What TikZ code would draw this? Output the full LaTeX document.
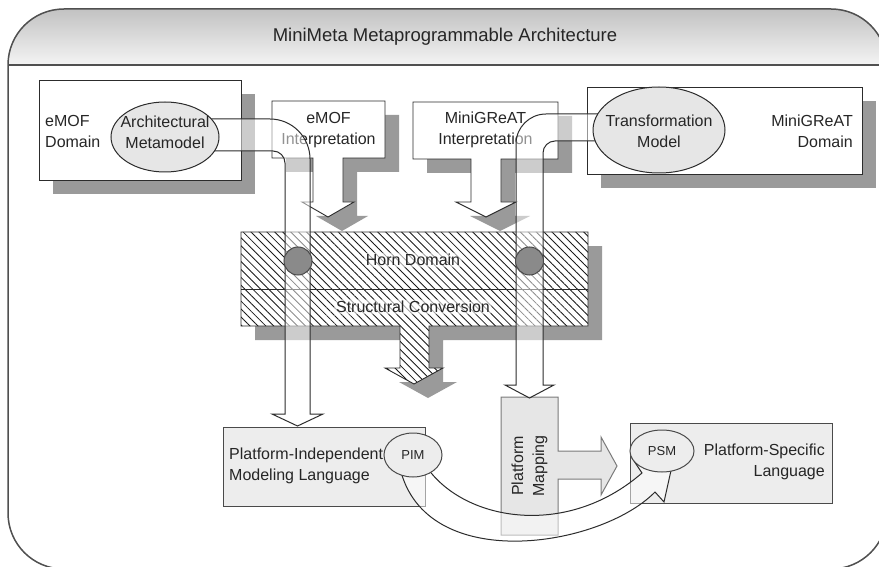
\documentclass[tikz,border=0pt]{standalone}
\usepackage{fontspec}
\setmainfont{Liberation Sans}
\usetikzlibrary{patterns.meta,shapes.geometric}

\definecolor{framec}{HTML}{505050}
\definecolor{hdtop}{HTML}{C2C2C2}
\definecolor{hdbot}{HTML}{F4F4F4}
\definecolor{shadowc}{HTML}{9A9A9A}
\definecolor{inkc}{HTML}{2C2C2C}
\definecolor{txtc}{HTML}{262626}
\definecolor{paleg}{HTML}{EDEDED}
\definecolor{ellg}{HTML}{E6E6E6}
\definecolor{dotc}{HTML}{8A8A8A}
\definecolor{hatchc}{HTML}{1A1A1A}
\definecolor{pmline}{HTML}{7A7A7A}
\definecolor{lowline}{HTML}{4A4A4A}

% T-shaped boxes with a down arrow, and the hatched Horn/Conversion block
\newcommand\emofTshape[1]{\path[#1] (272,101) -- (385,101) -- (385,158) -- (343,158) -- (343,202) -- (354,202) -- (328,217) -- (302,202) -- (313,202) -- (313,158) -- (272,158) -- cycle;}
\newcommand\greatTshape[1]{\path[#1] (413,102) -- (558,102) -- (558,159) -- (501,159) -- (501,202) -- (516,202) -- (486,217) -- (456,202) -- (471,202) -- (471,159) -- (413,159) -- cycle;}
\newcommand\hornTshape[1]{\path[#1] (241,232) -- (588,232) -- (588,326) -- (429,326) -- (429,368) -- (443,368) -- (414,384) -- (385,368) -- (400,368) -- (400,326) -- (241,326) -- cycle;}

\tikzset{
  lbl/.style={font=\fontsize{16}{21}\selectfont, text=txtc, align=center, inner sep=0pt},
  small/.style={font=\fontsize{13}{16}\selectfont, text=txtc, inner sep=0pt},
  onhatch/.style={lbl, fill=white, fill opacity=0.6, text opacity=1, inner sep=1.5pt, rounded corners=3pt},
  boxline/.style={draw=inkc, line width=0.9pt},
  pipe/.style={draw=inkc, line width=1pt, fill=white, fill opacity=0.5},
  hatch/.style={pattern={Lines[angle=-45,distance=5.6pt,line width=0.85pt]}, pattern color=hatchc},
}

\begin{document}
\begin{tikzpicture}[x=1pt,y=-1pt]
\useasboundingbox (0,0) rectangle (879,567);

% outer frame with its shaded header band
\fill[white] (8,65) -- (8,513) .. controls (8,544) and (33,569) .. (64,569) -- (831,569)
  .. controls (862,569) and (887,544) .. (887,513) -- (887,65)
  .. controls (887,34) and (862,9) .. (831,9) -- (64,9) .. controls (33,9) and (8,34) .. (8,65) -- cycle;
\shade[top color=hdtop, bottom color=hdbot] (8,65) .. controls (8,34) and (33,9) .. (64,9) -- (831,9)
  .. controls (862,9) and (887,34) .. (887,65) -- cycle;
\draw[framec, line width=1.5pt] (8,65) -- (8,513) .. controls (8,544) and (33,569) .. (64,569) -- (831,569)
  .. controls (862,569) and (887,544) .. (887,513) -- (887,65)
  .. controls (887,34) and (862,9) .. (831,9) -- (64,9) .. controls (33,9) and (8,34) .. (8,65) -- cycle;
\draw[framec, line width=1.3pt] (8,65) -- (887,65);
\node[lbl, font=\fontsize{18.5}{22}\selectfont] (title) at (445,37) {MiniMeta Metaprogrammable Architecture};

% drop shadows
\fill[shadowc] (53,94) rectangle (255,194);
\emofTshape{fill=shadowc, shift={(14,14)}}
\greatTshape{fill=shadowc, shift={(14,14)}}
\fill[shadowc] (601,101) rectangle (876,188);
\hornTshape{fill=shadowc, shift={(14,14)}}

% upper domain and interpretation boxes
\draw[boxline, fill=white] (39,80) rectangle (241,180);
\node[lbl, align=left, anchor=west] (emofdom) at (45,131) {eMOF\\Domain};
\emofTshape{boxline, fill=white}
\node[lbl] (emofint) at (328.5,130) {eMOF\\Interpretation};
\greatTshape{boxline, fill=white}
\node[lbl] (greatint) at (485.5,130) {MiniGReAT\\Interpretation};
\draw[boxline, fill=white] (587,87) rectangle (862,174);
\node[lbl, align=right, anchor=east] (greatdom) at (853,131) {MiniGReAT\\Domain};

% hatched Horn Domain / Structural Conversion block
\hornTshape{fill=white}
\hornTshape{hatch}
\hornTshape{boxline}
\draw[inkc, line width=0.8pt] (241,289) -- (588,289);
\node[onhatch] (horn) at (413,260) {Horn Domain};
\node[onhatch] (structconv) at (413,307) {Structural Conversion};

% lower language boxes and the platform mapping arrow
\draw[draw=lowline, line width=1pt, fill=paleg] (223,427) rectangle (425,506);
\node[lbl, align=left, anchor=west] (pimlang) at (229,466) {Platform-Independent\\Modeling Language};
\draw[draw=lowline, line width=1pt, fill=paleg] (630,423) rectangle (832,503);
\node[lbl, align=right, anchor=east] (psmlang) at (825,462) {Platform-Specific\\Language};
\draw[draw=pmline, line width=1pt, fill=ellg] (501,397) -- (558,397) -- (558,451) -- (601,451) -- (601,437)
  -- (617,466) -- (601,495) -- (601,479) -- (558,479) -- (558,535) -- (501,535) -- cycle;
\node[lbl, rotate=90] (pmap) at (529.5,466) {Platform\\Mapping};

% curved band from PIM to PSM
\path[pipe] (426,466) .. controls (462,520) and (565,540) .. (642,473) -- (632,458) -- (672,466)
  -- (664,502) -- (655,492) .. controls (600,548) and (425,575) .. (400,468) -- cycle;

% pipes from the two models down through the Horn block
\path[pipe] (200,119) -- (270,119) .. controls (292,119) and (310,137) .. (310,159) -- (310,414)
  -- (323,414) -- (297.5,426) -- (272,414) -- (285,414) -- (285,163)
  .. controls (285,156.4) and (279.6,151) .. (273,151) -- (200,151) -- cycle;
\path[pipe] (615,114) -- (546,114) .. controls (529.4,114) and (516,127.4) .. (516,144) -- (516,385)
  -- (505,385) -- (529.5,398) -- (554,385) -- (543,385) -- (543,153)
  .. controls (543,146.4) and (548.4,141) .. (555,141) -- (615,141) -- cycle;

% junction dots
\node[circle, draw=lowline, line width=1pt, fill=dotc, minimum size=28pt, inner sep=0pt] (dotl) at (298,261) {};
\node[circle, draw=lowline, line width=1pt, fill=dotc, minimum size=28pt, inner sep=0pt] (dotr) at (529.5,261) {};

% model ellipses
\node[ellipse, draw=inkc, line width=1pt, fill=ellg, minimum width=108pt, minimum height=70pt, inner sep=0pt] (archmm) at (165,137) {};
\node[lbl] (archtxt) at (165,132) {Architectural\\Metamodel};
\node[ellipse, draw=inkc, line width=1pt, fill=ellg, minimum width=132pt, minimum height=86pt, inner sep=0pt] (transm) at (659,130) {};
\node[lbl] (transtxt) at (659,131) {Transformation\\Model};
\node[ellipse, draw=lowline, line width=1pt, fill=paleg, minimum width=58pt, minimum height=44pt, inner sep=0pt] (pim) at (413,455) {};
\node[small] (pimtxt) at (413,455) {PIM};
\node[ellipse, draw=lowline, line width=1pt, fill=paleg, minimum width=64pt, minimum height=42pt, inner sep=0pt] (psm) at (662,451) {};
\node[small] (psmtxt) at (662,451) {PSM};
\end{tikzpicture}
\end{document}
